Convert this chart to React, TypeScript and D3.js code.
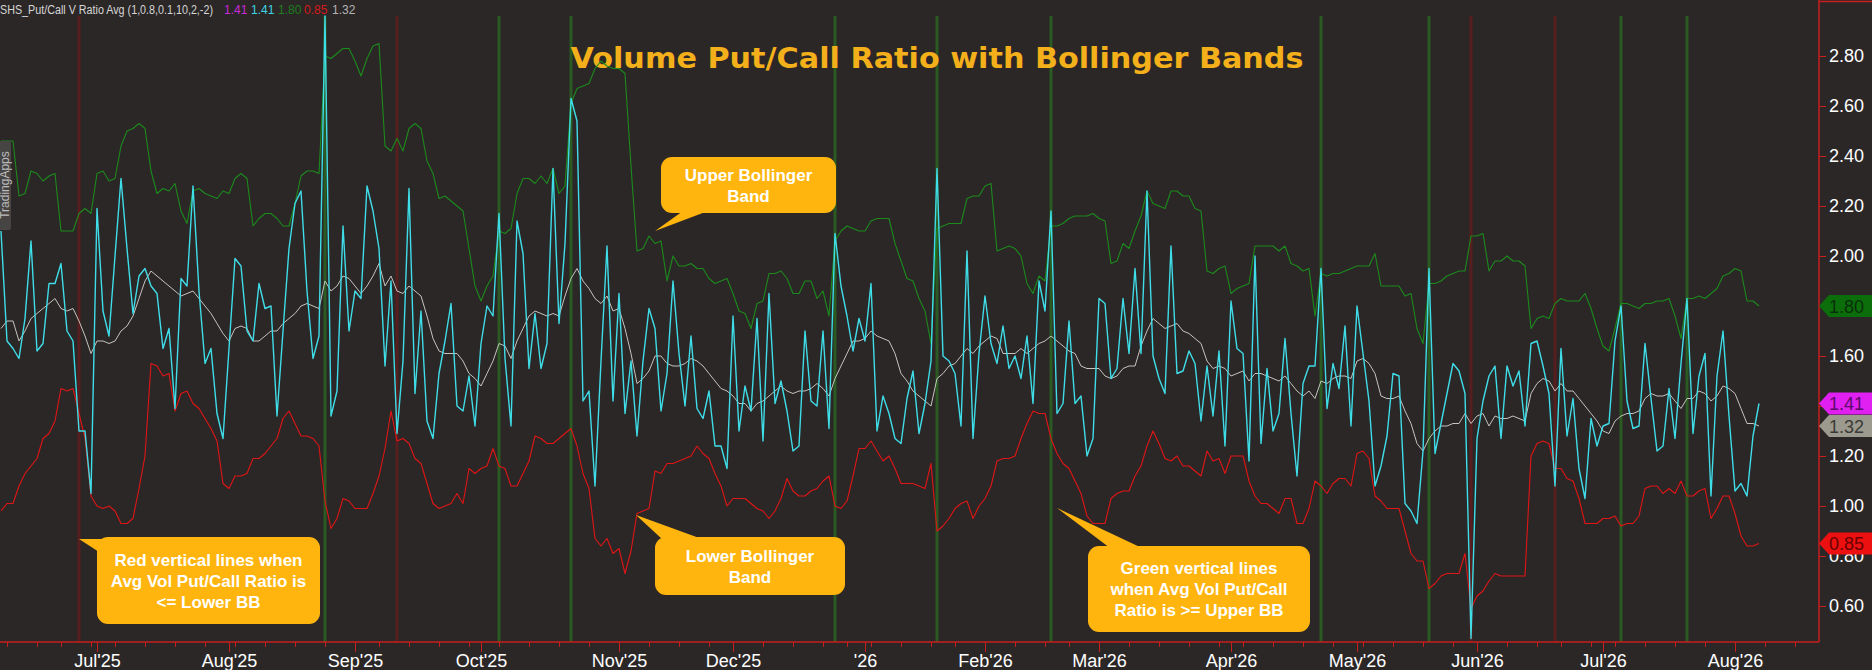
import React, { useEffect, useRef } from "react";
import * as d3 from "d3";

// daily volume put/call ratio (cyan), 10-day average (gray) and the bands
const putCallRatio = [
  2.10, 1.66, 1.63, 1.59, 1.75, 2.06, 1.62, 1.65, 1.89, 1.89,
  1.97, 1.70, 1.66, 1.30, 1.30, 1.05, 2.19, 1.78, 1.68, 2.00,
  2.31, 2.03, 1.77, 1.92, 1.95, 1.88, 1.85, 1.63, 1.71, 1.39,
  1.91, 1.88, 2.28, 1.86, 1.57, 1.63, 1.37, 1.27, 1.63, 1.99,
  1.96, 1.70, 1.66, 1.89, 1.79, 1.80, 1.36, 1.70, 2.03, 2.21,
  2.26, 1.86, 1.59, 1.68, 2.96, 1.36, 1.46, 2.12, 1.70, 1.86,
  1.83, 2.28, 2.18, 2.03, 1.56, 1.90, 1.29, 1.58, 2.27, 1.45,
  1.78, 1.34, 1.27, 1.53, 1.66, 1.81, 1.40, 1.38, 1.52, 1.32,
  1.65, 1.80, 1.76, 2.17, 1.59, 1.32, 2.14, 2.01, 1.55, 1.77,
  1.55, 1.65, 2.35, 1.73, 2.05, 2.63, 2.54, 1.42, 1.46, 1.08,
  1.58, 2.04, 1.42, 1.85, 1.37, 1.58, 1.28, 1.58, 1.79, 1.71,
  1.38, 1.53, 1.90, 1.61, 1.40, 1.68, 1.39, 1.35, 1.46, 1.24,
  1.24, 1.15, 1.76, 1.30, 1.48, 1.38, 1.75, 1.26, 1.85, 1.41,
  1.50, 1.38, 1.22, 1.24, 1.70, 1.42, 1.40, 1.70, 1.31, 2.09,
  1.88, 1.76, 1.62, 1.75, 1.66, 1.89, 1.30, 1.44, 1.37, 1.27,
  1.25, 1.43, 1.54, 1.29, 1.41, 1.58, 2.35, 1.60, 1.58, 1.53,
  1.32, 2.02, 1.27, 1.61, 1.84, 1.65, 1.57, 1.72, 1.55, 1.60,
  1.51, 1.68, 1.41, 1.90, 1.78, 2.18, 1.37, 1.41, 1.74, 1.41,
  1.44, 1.20, 1.27, 1.83, 1.81, 1.51, 1.55, 1.83, 1.61, 1.95,
  1.61, 2.26, 1.60, 1.51, 1.45, 2.04, 1.53, 1.54, 1.62, 1.57,
  1.34, 1.56, 1.36, 1.62, 1.24, 1.82, 1.63, 1.61, 1.18, 2.00,
  1.25, 1.55, 1.30, 1.37, 1.67, 1.37, 1.12, 1.49, 1.56, 1.56,
  1.95, 1.39, 1.57, 1.47, 1.72, 1.32, 1.80, 1.61, 1.42, 1.08,
  1.16, 1.28, 1.53, 1.52, 1.01, 0.98, 0.93, 1.22, 1.95, 1.21,
  1.33, 1.45, 1.57, 1.54, 1.45, 0.47, 1.27, 1.42, 1.52, 1.56,
  1.27, 1.56, 1.48, 1.54, 1.32, 1.65, 1.66, 1.56, 1.45, 1.08,
  1.63, 1.28, 1.43, 1.15, 1.03, 1.35, 1.24, 1.32, 1.33, 1.66,
  1.80, 1.42, 1.31, 1.32, 1.65, 1.43, 1.22, 1.24, 1.47, 1.27,
  1.57, 1.83, 1.29, 1.52, 1.61, 1.04, 1.52, 1.70, 1.36, 1.06,
  1.09, 1.04, 1.28, 1.41,
];

const ratioAvg = [
  1.71, 1.74, 1.74, 1.66, 1.70, 1.75, 1.77, 1.79, 1.81, 1.83,
  1.79, 1.78, 1.79, 1.74, 1.68, 1.61, 1.66, 1.66, 1.65, 1.66,
  1.70, 1.72, 1.76, 1.83, 1.90, 1.94, 1.92, 1.90, 1.88, 1.86,
  1.84, 1.85, 1.86, 1.83, 1.80, 1.77, 1.73, 1.69, 1.66, 1.71,
  1.72, 1.71, 1.66, 1.66, 1.68, 1.70, 1.70, 1.73, 1.75, 1.77,
  1.80, 1.81, 1.80, 1.79, 1.90, 1.86, 1.88, 1.92, 1.91, 1.88,
  1.85, 1.88, 1.92, 1.97, 1.88, 1.92, 1.86, 1.85, 1.88, 1.86,
  1.84, 1.76, 1.67, 1.62, 1.61, 1.61, 1.61, 1.58, 1.53, 1.51,
  1.48, 1.53, 1.58, 1.65, 1.64, 1.59, 1.66, 1.71, 1.76, 1.78,
  1.77, 1.76, 1.77, 1.76, 1.84, 1.91, 1.95, 1.90, 1.87, 1.83,
  1.81, 1.84, 1.78, 1.79, 1.71, 1.61, 1.49, 1.51, 1.54, 1.60,
  1.60, 1.57, 1.56, 1.56, 1.57, 1.59, 1.58, 1.56, 1.53, 1.50,
  1.47, 1.46, 1.44, 1.41, 1.41, 1.38, 1.41, 1.42, 1.44, 1.46,
  1.48, 1.46, 1.45, 1.46, 1.46, 1.47, 1.49, 1.47, 1.44, 1.51,
  1.56, 1.61, 1.66, 1.66, 1.67, 1.70, 1.68, 1.67, 1.66, 1.61,
  1.53, 1.50, 1.46, 1.44, 1.42, 1.40, 1.51, 1.53, 1.56, 1.57,
  1.60, 1.63, 1.61, 1.64, 1.66, 1.68, 1.67, 1.61, 1.61, 1.61,
  1.63, 1.61, 1.63, 1.65, 1.66, 1.68, 1.66, 1.64, 1.62, 1.61,
  1.56, 1.55, 1.55, 1.55, 1.52, 1.51, 1.52, 1.55, 1.56, 1.56,
  1.64, 1.70, 1.75, 1.73, 1.71, 1.72, 1.73, 1.70, 1.69, 1.67,
  1.65, 1.58, 1.55, 1.56, 1.55, 1.52, 1.53, 1.54, 1.50, 1.53,
  1.53, 1.52, 1.51, 1.50, 1.52, 1.49, 1.46, 1.44, 1.46, 1.43,
  1.50, 1.49, 1.51, 1.52, 1.52, 1.51, 1.58, 1.59, 1.57, 1.53,
  1.44, 1.43, 1.43, 1.44, 1.38, 1.33, 1.25, 1.22, 1.27, 1.30,
  1.32, 1.32, 1.33, 1.33, 1.37, 1.33, 1.36, 1.37, 1.32, 1.36,
  1.35, 1.35, 1.36, 1.35, 1.34, 1.45, 1.49, 1.51, 1.50, 1.46,
  1.49, 1.46, 1.46, 1.43, 1.40, 1.37, 1.34, 1.30, 1.29, 1.34,
  1.36, 1.37, 1.37, 1.38, 1.43, 1.45, 1.44, 1.44, 1.45, 1.42,
  1.39, 1.43, 1.43, 1.46, 1.45, 1.42, 1.44, 1.48, 1.47, 1.45,
  1.39, 1.33, 1.33, 1.32,
];

const upperBand = [
  2.46, 2.46, 2.46, 2.24, 2.25, 2.34, 2.33, 2.30, 2.32, 2.33,
  2.10, 2.10, 2.10, 2.17, 2.19, 2.17, 2.33, 2.34, 2.30, 2.31,
  2.44, 2.50, 2.51, 2.53, 2.51, 2.34, 2.25, 2.27, 2.26, 2.29,
  2.18, 2.13, 2.26, 2.27, 2.25, 2.24, 2.23, 2.26, 2.25, 2.31,
  2.33, 2.31, 2.12, 2.15, 2.17, 2.17, 2.15, 2.12, 2.12, 2.21,
  2.32, 2.34, 2.34, 2.33, 2.80, 2.79, 2.81, 2.83, 2.83, 2.78,
  2.72, 2.79, 2.84, 2.85, 2.44, 2.42, 2.47, 2.42, 2.51, 2.53,
  2.51, 2.38, 2.33, 2.23, 2.24, 2.22, 2.20, 2.18, 2.03, 1.88,
  1.82, 1.88, 1.92, 2.10, 2.09, 2.11, 2.25, 2.31, 2.31, 2.29,
  2.32, 2.29, 2.35, 2.25, 2.28, 2.61, 2.67, 2.68, 2.69, 2.75,
  2.78, 2.76, 2.75, 2.75, 2.73, 2.36, 2.02, 2.03, 2.08, 2.05,
  2.06, 1.90, 2.00, 1.96, 1.96, 1.97, 1.95, 1.95, 1.91, 1.89,
  1.90, 1.91, 1.85, 1.78, 1.77, 1.71, 1.81, 1.82, 1.93, 1.93,
  1.94, 1.91, 1.85, 1.85, 1.90, 1.90, 1.83, 1.86, 1.76, 2.06,
  2.10, 2.12, 2.11, 2.10, 2.10, 2.14, 2.15, 2.15, 2.15, 2.05,
  1.98, 1.91, 1.90, 1.83, 1.78, 1.65, 2.11, 2.12, 2.13, 2.13,
  2.13, 2.23, 2.24, 2.24, 2.28, 2.29, 2.02, 2.03, 2.04, 2.03,
  2.00, 1.89, 1.85, 1.92, 1.90, 2.12, 2.12, 2.13, 2.15, 2.16,
  2.16, 2.16, 2.17, 2.15, 2.14, 1.97, 1.98, 2.05, 2.03, 2.10,
  2.16, 2.26, 2.21, 2.20, 2.19, 2.26, 2.26, 2.24, 2.24, 2.19,
  2.18, 1.94, 1.93, 1.95, 1.96, 1.85, 1.87, 1.88, 1.89, 2.04,
  2.04, 2.04, 2.04, 2.02, 2.04, 1.97, 1.96, 1.94, 1.95, 1.76,
  1.93, 1.92, 1.93, 1.93, 1.94, 1.95, 1.96, 1.96, 1.96, 2.01,
  1.88, 1.88, 1.88, 1.88, 1.84, 1.85, 1.71, 1.65, 1.89, 1.89,
  1.90, 1.92, 1.93, 1.94, 1.94, 2.08, 2.08, 2.09, 1.94, 1.98,
  1.98, 2.00, 1.98, 1.98, 1.96, 1.71, 1.75, 1.76, 1.75, 1.81,
  1.83, 1.82, 1.82, 1.82, 1.85, 1.79, 1.71, 1.64, 1.62, 1.71,
  1.81, 1.81, 1.80, 1.79, 1.81, 1.81, 1.82, 1.82, 1.83, 1.76,
  1.67, 1.83, 1.83, 1.84, 1.83, 1.85, 1.87, 1.92, 1.93, 1.95,
  1.94, 1.82, 1.82, 1.80,
];

const lowerBand = [
  0.98, 1.01, 1.01, 1.08, 1.13, 1.16, 1.19, 1.27, 1.29, 1.34,
  1.47, 1.46, 1.47, 1.37, 1.27, 1.04, 1.00, 0.99, 1.00, 0.98,
  0.93, 0.93, 0.95, 1.07, 1.20, 1.57, 1.56, 1.52, 1.53, 1.38,
  1.45, 1.46, 1.41, 1.39, 1.35, 1.31, 1.26, 1.09, 1.07, 1.12,
  1.12, 1.13, 1.19, 1.19, 1.21, 1.24, 1.27, 1.35, 1.38, 1.33,
  1.28, 1.28, 1.27, 1.24, 1.02, 0.91, 0.95, 1.03, 1.02, 0.99,
  0.99, 0.99, 1.05, 1.12, 1.23, 1.38, 1.26, 1.27, 1.25, 1.19,
  1.17, 1.09, 1.01, 0.99, 1.00, 1.01, 1.05, 1.01, 1.15, 1.13,
  1.15, 1.16, 1.23, 1.16, 1.15, 1.08, 1.08, 1.13, 1.18, 1.28,
  1.27, 1.25, 1.25, 1.27, 1.29, 1.31, 1.24, 1.13, 1.07, 0.87,
  0.84, 0.87, 0.81, 0.83, 0.73, 0.82, 0.97, 0.98, 0.99, 1.14,
  1.13, 1.17, 1.17, 1.18, 1.19, 1.20, 1.24, 1.21, 1.19, 1.13,
  1.08, 1.00, 1.03, 1.03, 1.03, 1.01, 0.99, 0.98, 0.95, 0.98,
  1.03, 1.11, 1.06, 1.04, 1.04, 1.06, 1.07, 1.10, 1.12, 1.00,
  0.99, 1.02, 1.12, 1.23, 1.23, 1.26, 1.22, 1.18, 1.20, 1.15,
  1.09, 1.09, 1.09, 1.08, 1.07, 1.17, 0.90, 0.92, 0.95, 0.99,
  1.01, 1.02, 0.95, 1.00, 1.03, 1.08, 1.18, 1.19, 1.19, 1.20,
  1.27, 1.33, 1.38, 1.37, 1.37, 1.27, 1.21, 1.17, 1.15, 1.10,
  1.05, 0.96, 0.93, 0.93, 0.93, 1.03, 1.05, 1.06, 1.06, 1.12,
  1.16, 1.24, 1.30, 1.25, 1.19, 1.18, 1.20, 1.16, 1.16, 1.14,
  1.12, 1.22, 1.18, 1.19, 1.13, 1.20, 1.20, 1.20, 1.10, 1.04,
  1.01, 1.01, 0.99, 0.97, 1.03, 1.03, 0.93, 0.93, 0.99, 1.10,
  1.08, 1.05, 1.09, 1.11, 1.11, 1.08, 1.21, 1.22, 1.19, 1.04,
  1.02, 0.99, 0.99, 0.99, 0.90, 0.81, 0.78, 0.78, 0.67, 0.69,
  0.72, 0.73, 0.73, 0.73, 0.81, 0.59, 0.64, 0.66, 0.70, 0.73,
  0.72, 0.72, 0.72, 0.72, 0.72, 1.20, 1.25, 1.26, 1.25, 1.15,
  1.15, 1.11, 1.10, 1.03, 0.93, 0.93, 0.93, 0.95, 0.95, 0.96,
  0.92, 0.93, 0.93, 0.96, 1.07, 1.08, 1.08, 1.05, 1.07, 1.05,
  1.10, 1.04, 1.04, 1.06, 1.07, 0.95, 0.99, 1.04, 1.04, 0.97,
  0.88, 0.84, 0.84, 0.85,
];

// session indexes where the signal lines are drawn
const greenSignals = [54, 83, 95, 139, 156, 175, 220, 238, 270, 281];
const redSignals = [13, 66, 245, 259];

const yTicks = [0.6, 0.8, 1.0, 1.2, 1.4, 1.6, 1.8, 2.0, 2.2, 2.4, 2.6, 2.8];

const marketHolidays = [
  "2025-06-19", "2025-07-04", "2025-09-01", "2025-11-27", "2025-12-25",
  "2026-01-01", "2026-01-19", "2026-02-16", "2026-04-03", "2026-05-25",
  "2026-06-19", "2026-07-03",
];
const firstSession = new Date(2025, 5, 6);
const axisEnd = new Date(2026, 7, 22);

const legendTitle = "$SHS_Put/Call V Ratio Avg (1,0.8,0.1,10,2,-2)";
const legendValues = ["1.41", "1.41", "1.80", "0.85", "1.32"];
const lastValueTags = [1.8, 1.41, 1.32, 0.85];

const chartTitle = "Volume Put/Call Ratio with Bollinger Bands";

const callouts = [
  { lines: ["Upper Bollinger", "Band"], box: [661, 157, 175, 56], tip: [[655, 231], [683, 211], [708, 211]] },
  { lines: ["Lower Bollinger", "Band"], box: [655, 537, 190, 58], tip: [[636, 515], [662, 539], [702, 539]] },
  { lines: ["Red vertical lines when", "Avg Vol Put/Call Ratio is", "<= Lower BB"], box: [97, 537, 223, 87], tip: [[79, 539], [104, 539], [99, 552]] },
  { lines: ["Green vertical lines", "when Avg Vol Put/Call", "Ratio is >= Upper BB"], box: [1088, 546, 222, 86], tip: [[1057, 508], [1110, 548], [1142, 548]] },
];

const colors = {
  bg: "#2b2727",
  axis: "#c81e1e",
  ratio: "#3fdde8",
  avg: "#c4c4c0",
  upper: "#1c8a1c",
  lower: "#e01515",
  greenSignal: "#2b5a22",
  redSignal: "#561e1e",
  callout: "#ffb50d",
  title: "#f4b01a",
};
const legendColors = ["#c82ad8", "#3fd3e3", "#1d7d1d", "#d81818", "#b4b4b4"];
const tagColors = [
  { fill: "#0b6e0b", text: "#0a300a" },
  { fill: "#e020f0", text: "#5c0a6a" },
  { fill: "#9c9a8e", text: "#3a3a36" },
  { fill: "#ec1010", text: "#6a0000" },
];

const Chart = ({ width = 1872, height = 670 }) => {
  const plot = { right: 1819, bottom: 642 };

  // trading calendar
  const holidaySet = new Set(marketHolidays);
  const fmtKey = d3.timeFormat("%Y-%m-%d");
  const sessions = d3
    .timeDay
    .range(firstSession, axisEnd)
    .filter((d) => d.getDay() !== 0 && d.getDay() !== 6 && !holidaySet.has(fmtKey(d)));

  const scales = {
    x: d3.scaleLinear().domain([0, sessions.length - 1]).range([1, plot.right]),
    y: d3.scaleLinear().domain([0.456, 3.024]).range([plot.bottom, 0]),
  };

  const refs = {
    series: useRef(null),
    signals: useRef(null),
    xMinor: useRef(null),
    xMajor: useRef(null),
    yAxis: useRef(null),
  };

  useEffect(() => {
    const line = d3
      .line<number>()
      .x((_, i) => scales.x(i))
      .y((d) => scales.y(d));

    // signal lines
    const sig = d3.select(refs.signals.current);
    sig.selectAll("*").remove();
    const sigData = [
      ...greenSignals.map((i) => ({ i, c: colors.greenSignal })),
      ...redSignals.map((i) => ({ i, c: colors.redSignal })),
    ];
    sig
      .selectAll("line")
      .data(sigData)
      .enter()
      .append("line")
      .attr("x1", (d) => scales.x(d.i))
      .attr("x2", (d) => scales.x(d.i))
      .attr("y1", 16)
      .attr("y2", plot.bottom)
      .attr("stroke", (d) => d.c)
      .attr("stroke-width", 3);

    // series
    const g = d3.select(refs.series.current);
    g.selectAll("*").remove();
    const series = [
      { data: upperBand, color: colors.upper, w: 1.1 },
      { data: lowerBand, color: colors.lower, w: 1.1 },
      { data: ratioAvg, color: colors.avg, w: 1 },
      { data: putCallRatio, color: colors.ratio, w: 1.4 },
    ];
    g.selectAll("path")
      .data(series)
      .enter()
      .append("path")
      .attr("fill", "none")
      .attr("stroke", (d) => d.color)
      .attr("stroke-width", (d) => d.w)
      .attr("stroke-linejoin", "round")
      .attr("d", (d) => line(d.data));

    // x axis: weekly minor ticks and monthly major ticks with labels
    const minor: number[] = [];
    const major: number[] = [];
    sessions.forEach((d, i) => {
      if (i === 0) return;
      const prev = sessions[i - 1];
      if (d.getMonth() !== prev.getMonth()) major.push(i);
      else if (+d3.timeMonday.floor(d) !== +d3.timeMonday.floor(prev)) minor.push(i);
    });
    const monthFmt = (i: number) => {
      const d = sessions[i];
      return d.getMonth() === 0 ? d3.timeFormat("'%y")(d) : d3.timeFormat("%b'%y")(d);
    };

    d3.select(refs.xMinor.current).call(
      d3.axisBottom(scales.x).tickValues(minor).tickSize(5).tickSizeOuter(0).tickFormat(() => "")
    );
    d3.select(refs.xMajor.current).call(
      d3
        .axisBottom(scales.x)
        .tickValues(major)
        .tickSize(10)
        .tickSizeOuter(0)
        .tickPadding(2)
        .tickFormat((i) => monthFmt(+i))
    );
    d3.select(refs.xMinor.current).select(".domain").remove();
    d3.select(refs.xMajor.current).select(".domain").remove();

    d3.select(refs.yAxis.current).call(
      d3
        .axisRight(scales.y)
        .tickValues(yTicks)
        .tickSize(7)
        .tickSizeOuter(0)
        .tickPadding(3)
        .tickFormat(d3.format(".2f"))
    );
    d3.select(refs.yAxis.current).select(".domain").remove();

    for (const r of [refs.xMinor, refs.xMajor, refs.yAxis]) {
      const a = d3.select(r.current);
      a.selectAll("line").attr("stroke", colors.axis);
      a.selectAll("text")
        .attr("fill", "#ffffff")
        .style("font-family", "'Liberation Sans', Arial, sans-serif")
        .style("font-size", "18px");
    }
  }, []);

  const tagPoints = (y: number) =>
    `${plot.right},${y} ${plot.right + 10},${y - 11} ${width},${y - 11} ${width},${y + 11} ${plot.right + 10},${y + 11}`;

  const legendX = [224, 251, 278, 304, 332];

  return (
    <svg width={width} height={height} style={{ position: "absolute", left: 0, top: 0 }}>
      <rect width={width} height={height} fill={colors.bg} />
      <defs>
        <clipPath id="plot-clip">
          <rect x={0} y={0} width={plot.right} height={plot.bottom} />
        </clipPath>
      </defs>
      <g ref={refs.signals} clipPath="url(#plot-clip)" />
      <text
        x={937}
        y={68}
        textAnchor="middle"
        fill={colors.title}
        fontFamily="'DejaVu Sans', Verdana, sans-serif"
        fontWeight="bold"
        fontSize={29}
        textLength={733}
        lengthAdjust="spacingAndGlyphs"
      >
        {chartTitle}
      </text>
      <g ref={refs.series} clipPath="url(#plot-clip)" />

      {/* legend row */}
      <g fontFamily="'Liberation Sans', Arial, sans-serif" fontSize={12}>
        <text x={-6} y={14} fill="#d6d6d6" textLength={219} lengthAdjust="spacingAndGlyphs">
          {legendTitle}
        </text>
        {legendValues.map((v, k) => (
          <text key={k} x={legendX[k]} y={14} fill={legendColors[k]}>
            {v}
          </text>
        ))}
      </g>

      {/* side tab */}
      <rect x={-3} y={141} width={14} height={89} rx={2} fill="#474444" />
      <text
        transform="translate(9,185) rotate(-90)"
        textAnchor="middle"
        fill="#bdbdbd"
        fontFamily="'Liberation Sans', Arial, sans-serif"
        fontSize={12}
      >
        TradingApps
      </text>

      {/* callouts */}
      <g fontFamily="'Liberation Sans', Arial, sans-serif" fontWeight="bold" fontSize={17} fill="#ffffff">
        {callouts.map((c, k) => {
          const [bx, by, bw, bh] = c.box;
          const cx = bx + bw / 2;
          const top = by + bh / 2 - ((c.lines.length - 1) * 21) / 2 + 6;
          return (
            <g key={k}>
              <polygon points={c.tip.map((p) => p.join(",")).join(" ")} fill={colors.callout} />
              <rect x={bx} y={by} width={bw} height={bh} rx={11} fill={colors.callout} />
              {c.lines.map((t, j) => (
                <text key={j} x={cx} y={top + j * 21} textAnchor="middle" fill="#ffffff">
                  {t}
                </text>
              ))}
            </g>
          );
        })}
      </g>

      {/* axes */}
      <line x1={0} x2={plot.right} y1={plot.bottom} y2={plot.bottom} stroke={colors.axis} strokeWidth={1.5} />
      <line x1={plot.right} x2={plot.right} y1={0} y2={plot.bottom} stroke={colors.axis} strokeWidth={1.5} />
      <line x1={plot.right} x2={width} y1={1.5} y2={1.5} stroke={colors.axis} strokeWidth={1.5} />
      <g ref={refs.xMinor} transform={`translate(0, ${plot.bottom})`} />
      <g ref={refs.xMajor} transform={`translate(0, ${plot.bottom})`} />
      <g ref={refs.yAxis} transform={`translate(${plot.right}, 0)`} />

      {/* last value tags */}
      <g fontFamily="'Liberation Sans', Arial, sans-serif" fontSize={18}>
        {lastValueTags.map((v, k) => (
          <g key={k}>
            <polygon points={tagPoints(scales.y(v))} fill={tagColors[k].fill} />
            <text x={plot.right + 10} y={scales.y(v) + 6.5} fill={tagColors[k].text}>
              {d3.format(".2f")(v)}
            </text>
          </g>
        ))}
      </g>
    </svg>
  );
};

export default function App() {
  return <Chart />;
}
